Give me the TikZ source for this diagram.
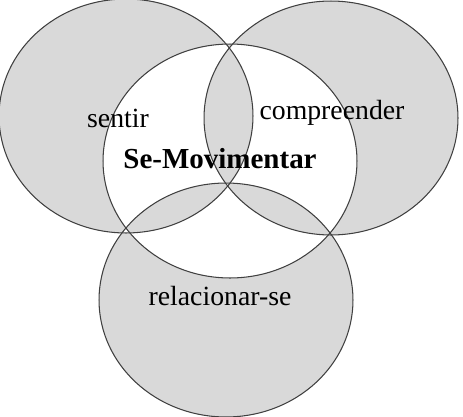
\documentclass[tikz,border=0pt]{standalone}
\usepackage{fontspec}
\setmainfont{Liberation Serif}
\usetikzlibrary{positioning}

\begin{document}
\begin{tikzpicture}[x=0.02cm, y=-0.02cm,
          ring/.style={draw=black!75, line width=0.6pt},
          zone/.style={fill=gray!30, even odd rule},
          word/.style={font=\fontsize{15.8}{18}\selectfont, inner sep=0pt},
          core/.style={font=\fontsize{16.5}{19}\selectfont\bfseries, inner sep=0pt}
        ]
        \useasboundingbox (0,0) rectangle (463,416);
        % centres of the four ellipses
        \coordinate (sen) at (126,116);
        \coordinate (com) at (331,118);
        \coordinate (rel) at (226,300);
        \coordinate (mov) at (230,161);
        \fill[zone] (sen) ellipse [x radius=2.54cm, y radius=2.34cm]
                    (com) ellipse [x radius=2.54cm, y radius=2.34cm]
                    (rel) ellipse [x radius=2.54cm, y radius=2.34cm]
                    (mov) ellipse [x radius=2.54cm, y radius=2.34cm];
        \foreach \c in {sen, com, rel, mov} {
          \draw[ring] (\c) ellipse [x radius=2.54cm, y radius=2.34cm];
        }
        \node[word] (sentir) at (118,118) {sentir};
        \node[word] (compreender) at (332,113) {compreender};
        \node[core] (semov) at (220,159) {Se-Movimentar};
        \node[word] (relacionar) at (220,296) {relacionar-se};
      \end{tikzpicture}
\end{document}
